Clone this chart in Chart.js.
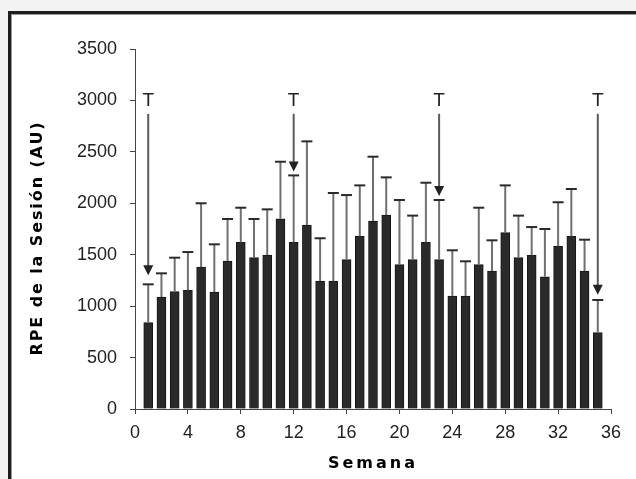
<!DOCTYPE html>
<html>
<head>
<meta charset="utf-8">
<script src="https://cdn.jsdelivr.net/npm/chart.js@4/dist/chart.umd.min.js"></script>
<style>
    html, body { margin: 0; padding: 0; }
    body { width: 636px; height: 479px; background: #f3f3f3; position: relative; overflow: hidden; }
    #frame {
        position: absolute; left: 8px; top: 11px; width: 700px; height: 560px;
        background: #fff; border-left: 3px solid #1e1e1e; border-top: 3px solid #1e1e1e;
        box-shadow: inset 1px 1px 0 #9a9a9a;
    }
    #chart { position: absolute; left: 0; top: 0; }
</style>
</head>
<body>
<div id="frame"></div>
<canvas id="chart" width="636" height="479"></canvas>
<script>
// weeks (x), mean session RPE (AU) and the upper error (SD)
const weeks = [1, 2, 3, 4, 5, 6, 7, 8, 9, 10, 11, 12, 13, 14, 15, 16, 17, 18,
    19, 20, 21, 22, 23, 24, 25, 26, 27, 28, 29, 30, 31, 32, 33, 34, 35];
const rpe = [839, 1089, 1141, 1154, 1380, 1137, 1439, 1620, 1471, 1497, 1850, 1620,
    1789, 1244, 1244, 1452, 1679, 1828, 1886, 1403, 1452, 1620, 1452, 1099,
    1099, 1403, 1342, 1714, 1471, 1494, 1286, 1582, 1679, 1342, 742];
const sd = [373, 230, 330, 372, 620, 464, 408, 337, 376, 444, 554, 651,
    813, 416, 856, 628, 495, 625, 366, 629, 428, 580, 580, 444,
    337, 554, 298, 460, 409, 275, 464, 428, 460, 304, 318];

// "T" markers: week, where the arrow ends, where it starts and where the T sits
const markerWeeks = [1, 12, 23, 35];
const markerTips = [1300, 2310, 2070, 1110];
const markerStart = 2870;
const markerLabelY = 3000;

const xTicks = [0, 4, 8, 12, 16, 20, 24, 28, 32, 36];
const yTicks = [0, 500, 1000, 1500, 2000, 2500, 3000, 3500];

const yTitle = "RPE de la Sesión (AU)";
const xTitle = "Semana";

const tickFont = { family: "Liberation Sans, Arial, sans-serif", size: 18 };

const extras = {
    id: "extras",
    afterDatasetsDraw(chart) {
        const { ctx, scales: { x, y } } = chart;
        ctx.save();
        // error bars (upper only)
        weeks.forEach((w, i) => {
            const px = x.getPixelForValue(w);
            const top = y.getPixelForValue(rpe[i]);
            const cap = y.getPixelForValue(rpe[i] + sd[i]);
            ctx.strokeStyle = "#707070";
            ctx.lineWidth = 2;
            ctx.beginPath();
            ctx.moveTo(px, top);
            ctx.lineTo(px, cap);
            ctx.stroke();
            ctx.strokeStyle = "#2a2a2a";
            ctx.beginPath();
            ctx.moveTo(px - 5.5, cap);
            ctx.lineTo(px + 5.5, cap);
            ctx.stroke();
        });
        // arrows with T
        markerWeeks.forEach((w, i) => {
            const px = x.getPixelForValue(w);
            const start = y.getPixelForValue(markerStart);
            const tip = y.getPixelForValue(markerTips[i]);
            ctx.strokeStyle = "#5a5a5a";
            ctx.lineWidth = 2;
            ctx.beginPath();
            ctx.moveTo(px, start);
            ctx.lineTo(px, tip - 8);
            ctx.stroke();
            ctx.fillStyle = "#222";
            ctx.beginPath();
            ctx.moveTo(px - 5, tip - 10);
            ctx.lineTo(px + 5, tip - 10);
            ctx.lineTo(px, tip);
            ctx.closePath();
            ctx.fill();
            ctx.fillStyle = "#222";
            ctx.font = "19px Liberation Sans, Arial, sans-serif";
            ctx.textAlign = "center";
            ctx.textBaseline = "middle";
            ctx.fillText("T", px, y.getPixelForValue(markerLabelY));
        });
        ctx.restore();
    },
    afterDraw(chart) {
        const ctx = chart.ctx;
        ctx.save();
        ctx.fillStyle = "#000";
        ctx.font = "bold 16px DejaVu Sans, Verdana, sans-serif";
        ctx.textAlign = "center";
        ctx.textBaseline = "middle";
        ctx.letterSpacing = "3px";
        ctx.fillText(xTitle, 373, 464);
        ctx.letterSpacing = "1.9px";
        ctx.translate(38, 238);
        ctx.rotate(-Math.PI / 2);
        ctx.fillText(yTitle, 0, 0);
        ctx.restore();
    }
};

new Chart(document.getElementById("chart"), {
    type: "bar",
    data: {
        datasets: [{
            data: weeks.map((w, i) => ({ x: w, y: rpe[i] })),
            backgroundColor: "#2a2a2a",
            borderColor: "#161616",
            borderWidth: 1,
            barThickness: 9,
        }],
    },
    options: {
        responsive: false,
        animation: false,
        events: [],
        layout: { padding: { left: 0, top: 49, right: 25, bottom: 0 } },
        plugins: { legend: { display: false }, tooltip: { enabled: false } },
        scales: {
            x: {
                type: "linear",
                min: 0,
                max: 36,
                offset: false,
                afterFit: (s) => { s.height = 70; },
                afterBuildTicks: (s) => { s.ticks = xTicks.map((v) => ({ value: v })); },
                border: { color: "#444", width: 1 },
                grid: { offset: false, drawOnChartArea: false, tickLength: 5, tickColor: "#444" },
                ticks: { color: "#222", font: tickFont, padding: 8, maxRotation: 0, callback: (v) => String(v) },
            },
            y: {
                min: 0,
                max: 3500,
                afterFit: (s) => { s.width = 135; },
                afterBuildTicks: (s) => { s.ticks = yTicks.map((v) => ({ value: v })); },
                border: { color: "#444", width: 1 },
                grid: { drawOnChartArea: false, tickLength: 5, tickColor: "#444" },
                ticks: { color: "#222", font: tickFont, padding: 13, callback: (v) => String(v) },
            },
        },
    },
    plugins: [extras],
});
</script>
</body>
</html>
